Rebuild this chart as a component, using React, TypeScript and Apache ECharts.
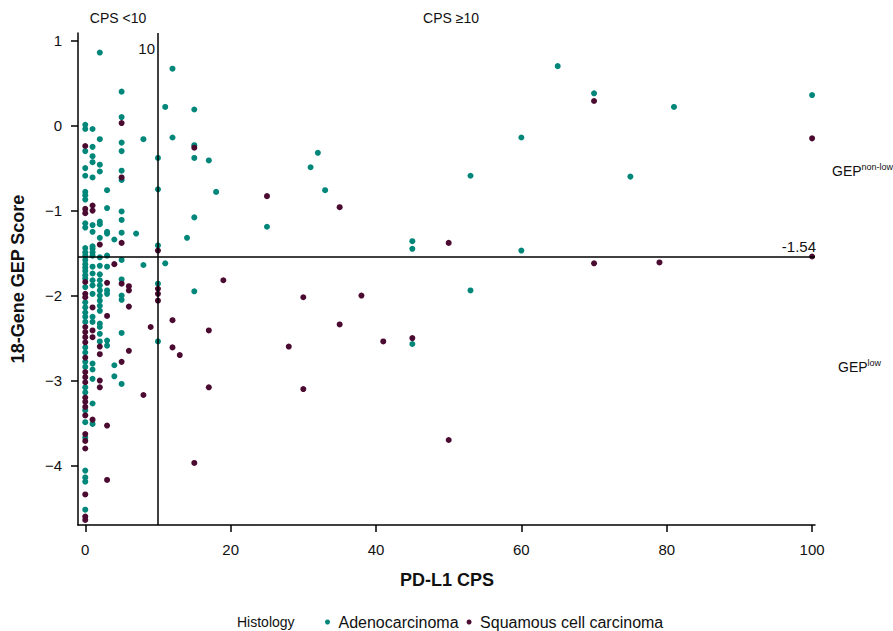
import React, { useEffect, useRef } from "react";
import * as echarts from "echarts";

// PD-L1 CPS columns and 18-gene GEP scores per column
const adenoCPS = [0, 1, 2, 3, 4, 5, 7, 8, 10, 11, 12, 14, 15, 17, 18, 25, 31, 32, 33, 45, 53, 60, 65, 70, 75, 81, 100];
const adenoGEP: number[][] = [
  [0.01, -0.04, -0.3, -0.5, -0.59, -0.78, -0.82, -0.87, -1.15, -1.2, -1.44, -1.49, -1.53, -1.58, -1.63, -1.67, -1.71, -1.76, -1.8, -1.9, -2.08, -2.14, -2.2, -2.25, -2.31, -2.61, -2.67, -2.78, -2.84, -3.08, -3.14, -3.35, -3.49, -3.67, -4.06, -4.14, -4.19, -4.52],
  [-0.04, -0.25, -0.36, -0.43, -0.61, -1.17, -1.25, -1.42, -1.45, -1.49, -1.53, -1.66, -1.74, -1.82, -1.88, -1.98, -2.25, -2.31, -2.8, -2.87, -2.98, -3.27, -3.51],
  [0.86, -0.16, -0.46, -0.54, -1.13, -1.16, -1.32, -1.55, -1.65, -1.75, -1.82, -1.88, -1.94, -2.0, -2.06, -2.12, -2.18, -2.33, -2.37, -2.45, -2.54],
  [-0.76, -0.97, -1.25, -1.27, -1.53, -1.66, -1.94, -1.98, -2.53, -2.59],
  [-1.34, -2.82, -2.95],
  [0.4, 0.1, -0.2, -0.3, -0.53, -0.64, -1.01, -1.11, -1.26, -1.58, -1.81, -2.0, -2.05, -2.44, -3.04],
  [-1.27],
  [-0.16, -1.64],
  [-0.38, -0.75, -1.41, -1.86, -2.54],
  [0.22, -1.62],
  [0.67, -0.14],
  [-1.32],
  [0.19, -0.23, -0.38, -1.08, -1.95],
  [-0.41],
  [-0.78],
  [-1.19],
  [-0.49],
  [-0.32],
  [-0.76],
  [-1.36, -1.45, -2.57],
  [-0.59, -1.94],
  [-0.14, -1.47],
  [0.7],
  [0.38],
  [-0.6],
  [0.22],
  [0.36],
];

const squamCPS = [0, 1, 2, 3, 4, 5, 6, 8, 9, 10, 12, 13, 15, 17, 19, 25, 28, 30, 35, 38, 41, 45, 50, 70, 79, 100];
const squamGEP: number[][] = [
  [-0.24, -0.98, -1.03, -1.84, -1.98, -2.02, -2.37, -2.43, -2.49, -2.55, -2.73, -2.9, -2.96, -3.02, -3.2, -3.25, -3.31, -3.41, -3.63, -3.71, -3.8, -4.34, -4.6, -4.64],
  [-0.94, -1.0, -2.14, -2.41, -2.49, -3.46],
  [-1.4, -2.6, -2.69, -3.0, -3.08],
  [-1.85, -2.24, -3.53, -4.17],
  [-1.63],
  [0.03, -0.61, -1.38, -1.86, -2.78],
  [-1.89, -1.94, -2.13, -2.65],
  [-3.17],
  [-2.37],
  [-1.47, -1.92, -1.98, -2.06],
  [-2.29, -2.61],
  [-2.7],
  [-0.26, -3.97],
  [-2.41, -3.08],
  [-1.82],
  [-0.83],
  [-2.6],
  [-2.02, -3.1],
  [-0.96, -2.34],
  [-2.0],
  [-2.54],
  [-2.5],
  [-1.38, -3.7],
  [0.29, -1.62],
  [-1.61],
  [-0.15, -1.54],
];

const xTicks = [0, 20, 40, 60, 80, 100];
const yTicks = [-4, -3, -2, -1, 0, 1];
const cpsCutoff = 10;
const gepCutoff = -1.54;

const seriesNames = ["Adenocarcinoma", "Squamous cell carcinoma"];

const toPairs = (xs: number[], ys: number[][]) => {
  const out: [number, number][] = [];
  xs.forEach((x, i) => ys[i].forEach((y) => out.push([x, y])));
  return out;
};

const FONT = "'Liberation Sans', Arial, sans-serif";
const TEAL = "#00877a";
const MAROON = "#4b0a30";

export default function App() {
  const ref = useRef<HTMLDivElement>(null);
  useEffect(() => {
    document.body.style.margin = "0";
    if (!ref.current) return;
    const chart = echarts.init(ref.current, null, { renderer: "svg" });
    chart.setOption({
      animation: false,
      backgroundColor: "#ffffff",
      textStyle: { fontFamily: FONT },
      grid: { left: 78, right: 78, top: 33, bottom: 106, containLabel: false },
      xAxis: {
        type: "value",
        min: -1,
        max: 100.4,
        axisLine: { show: true, onZero: false, lineStyle: { color: "#000", width: 1.5 } },
        axisTick: { show: true, customValues: xTicks, length: 7, lineStyle: { color: "#000", width: 1.5 } },
        axisLabel: { customValues: xTicks, fontSize: 15, color: "#111", margin: 17, fontFamily: FONT },
        splitLine: { show: false },
      },
      yAxis: {
        type: "value",
        min: -4.7,
        max: 1.09,
        axisLine: { show: true, onZero: false, lineStyle: { color: "#000", width: 1.5 } },
        axisTick: { show: true, customValues: yTicks, length: 7, lineStyle: { color: "#000", width: 1.5 } },
        axisLabel: {
          customValues: yTicks,
          fontSize: 15,
          color: "#111",
          margin: 16,
          fontFamily: FONT,
          formatter: (v: number) => (v < 0 ? "\u2212" + Math.abs(v) : String(v)),
        },
        splitLine: { show: false },
      },
      legend: {
        data: seriesNames,
        left: 325,
        top: 614,
        padding: 0,
        icon: "circle",
        itemWidth: 12,
        itemHeight: 5,
        itemGap: 8,
        textStyle: { fontSize: 16, color: "#111", fontFamily: FONT },
      },
      series: [
        {
          name: seriesNames[0],
          type: "scatter",
          symbolSize: 6,
          itemStyle: { color: TEAL, opacity: 1 },
          data: toPairs(adenoCPS, adenoGEP),
          markLine: {
            silent: true,
            symbol: "none",
            label: { show: false },
            lineStyle: { color: "#000", width: 1.5, type: "solid" },
            data: [{ xAxis: cpsCutoff }, { yAxis: gepCutoff }],
          },
          z: 2,
        },
        {
          name: seriesNames[1],
          type: "scatter",
          symbolSize: 6,
          itemStyle: { color: MAROON, opacity: 1 },
          data: toPairs(squamCPS, squamGEP),
          z: 3,
        },
      ],
      graphic: [
        {
          type: "text",
          x: 18,
          y: 279,
          rotation: Math.PI / 2,
          style: { text: "18-Gene GEP Score", fontSize: 18, fontWeight: "bold", fill: "#111", align: "center", verticalAlign: "middle", fontFamily: FONT },
        },
        {
          type: "text",
          x: 447,
          y: 580,
          style: { text: "PD-L1 CPS", fontSize: 18, fontWeight: "bold", fill: "#111", align: "center", verticalAlign: "middle", fontFamily: FONT },
        },
        {
          type: "text",
          x: 118,
          y: 18,
          style: { text: "CPS <10", fontSize: 14, fill: "#111", align: "center", verticalAlign: "middle", fontFamily: FONT },
        },
        {
          type: "text",
          x: 451,
          y: 18,
          style: { text: "CPS \u226510", fontSize: 14, fill: "#111", align: "center", verticalAlign: "middle", fontFamily: FONT },
        },
        {
          type: "text",
          x: 155,
          y: 48,
          style: { text: "10", fontSize: 15, fill: "#111", align: "right", verticalAlign: "middle", fontFamily: FONT },
        },
        {
          type: "text",
          x: 816,
          y: 246,
          style: { text: "-1.54", fontSize: 15, fill: "#111", align: "right", verticalAlign: "middle", fontFamily: FONT },
        },
        {
          type: "text",
          x: 832,
          y: 170,
          style: {
            text: "{b|GEP}{s|non-low}",
            verticalAlign: "middle",
            rich: {
              b: { fontSize: 14, fill: "#111", fontFamily: FONT, verticalAlign: "bottom" },
              s: { fontSize: 9, fill: "#111", fontFamily: FONT, verticalAlign: "top", padding: [0, 0, 6, 0] },
            },
          },
        },
        {
          type: "text",
          x: 838,
          y: 366,
          style: {
            text: "{b|GEP}{s|low}",
            verticalAlign: "middle",
            rich: {
              b: { fontSize: 14, fill: "#111", fontFamily: FONT, verticalAlign: "bottom" },
              s: { fontSize: 9, fill: "#111", fontFamily: FONT, verticalAlign: "top", padding: [0, 0, 6, 0] },
            },
          },
        },
        {
          type: "text",
          x: 237,
          y: 622,
          style: { text: "Histology", fontSize: 14, fill: "#111", align: "left", verticalAlign: "middle", fontFamily: FONT },
        },
      ],
    });
    return () => chart.dispose();
  }, []);
  return <div ref={ref} style={{ width: 893, height: 631 }} />;
}
